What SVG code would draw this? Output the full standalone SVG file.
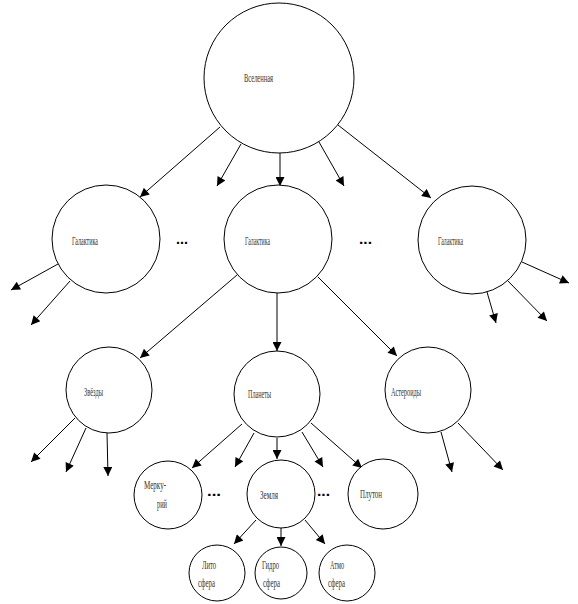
<svg xmlns="http://www.w3.org/2000/svg" width="578" height="604" viewBox="0 0 578 604">
<style>
.n{fill:#fff;stroke:#000;stroke-width:1}
.t{font-family:"Liberation Serif",serif;font-size:12.5px;fill:#333}
.d{font-family:"Liberation Sans",sans-serif;font-size:15px;font-weight:bold;fill:#000}
#conn line{stroke:#000;stroke-width:1;marker-end:url(#ah)}
</style>
<defs>
<marker id="ah" viewBox="0 0 10 10" refX="10" refY="5" markerWidth="11" markerHeight="9" markerUnits="userSpaceOnUse" orient="auto">
<path d="M0,0 L10,5 L0,10 z" fill="#000"/>
</marker>
</defs>
<rect width="578" height="604" fill="#fff"/>
<g id="conn">
<line x1="220" y1="127" x2="140" y2="197"/>
<line x1="241" y1="144" x2="217" y2="186"/>
<line x1="280" y1="153" x2="280" y2="186"/>
<line x1="319" y1="142" x2="344" y2="186"/>
<line x1="338" y1="125" x2="431" y2="198"/>
<line x1="58" y1="264" x2="11" y2="290"/>
<line x1="70" y1="281" x2="31" y2="325"/>
<line x1="522" y1="262" x2="569" y2="283"/>
<line x1="508" y1="281" x2="547" y2="321"/>
<line x1="487" y1="292" x2="496" y2="323"/>
<line x1="237" y1="275" x2="140" y2="358"/>
<line x1="277" y1="293" x2="277" y2="351"/>
<line x1="318" y1="277" x2="397" y2="356"/>
<line x1="75" y1="418" x2="31" y2="462"/>
<line x1="86" y1="428" x2="66" y2="472"/>
<line x1="107" y1="433" x2="108" y2="476"/>
<line x1="441" y1="432" x2="452" y2="472"/>
<line x1="458" y1="423" x2="503" y2="470"/>
<line x1="242" y1="424" x2="192" y2="468"/>
<line x1="254" y1="433" x2="235" y2="467"/>
<line x1="277" y1="438" x2="277" y2="459"/>
<line x1="302" y1="432" x2="323" y2="467"/>
<line x1="311" y1="423" x2="362" y2="468"/>
<line x1="256" y1="520" x2="234" y2="544"/>
<line x1="281" y1="528" x2="281" y2="546"/>
<line x1="305" y1="520" x2="325" y2="544"/>
</g>
<g id="universe"><circle class="n" cx="279" cy="78" r="75"/><text class="t" x="244" y="82" textLength="29" lengthAdjust="spacingAndGlyphs">Вселенная</text></g>
<g id="galaxy1"><circle class="n" cx="106" cy="239" r="54"/><text class="t" x="72" y="245" textLength="26" lengthAdjust="spacingAndGlyphs">Галактика</text></g>
<g id="galaxy2"><circle class="n" cx="278" cy="239" r="54"/><text class="t" x="245" y="245" textLength="25" lengthAdjust="spacingAndGlyphs">Галактика</text></g>
<g id="galaxy3"><circle class="n" cx="472" cy="240" r="54"/><text class="t" x="438" y="245" textLength="25" lengthAdjust="spacingAndGlyphs">Галактика</text></g>
<g id="dots1"><text class="d" x="176" y="244" textLength="12" lengthAdjust="spacingAndGlyphs">...</text></g>
<g id="dots2"><text class="d" x="359" y="244" textLength="13" lengthAdjust="spacingAndGlyphs">...</text></g>
<g id="stars"><circle class="n" cx="109" cy="390" r="43"/><text class="t" x="84" y="396" textLength="19" lengthAdjust="spacingAndGlyphs">Звёзды</text></g>
<g id="planets"><circle class="n" cx="277" cy="394" r="43"/><text class="t" x="248" y="398" textLength="23" lengthAdjust="spacingAndGlyphs">Планеты</text></g>
<g id="asteroids"><circle class="n" cx="428" cy="390" r="43"/><text class="t" x="391" y="396" textLength="30" lengthAdjust="spacingAndGlyphs">Астероиды</text></g>
<g id="mercury"><circle class="n" cx="168" cy="495" r="34"/><text class="t" x="144" y="489" textLength="22" lengthAdjust="spacingAndGlyphs">Мерку-</text><text class="t" x="157" y="508" textLength="10" lengthAdjust="spacingAndGlyphs">рий</text></g>
<g id="dots3"><text class="d" x="207" y="496" textLength="14" lengthAdjust="spacingAndGlyphs">...</text></g>
<g id="earth"><circle class="n" cx="281" cy="494" r="34"/><text class="t" x="260" y="499" textLength="18" lengthAdjust="spacingAndGlyphs">Земля</text></g>
<g id="dots4"><text class="d" x="317" y="496" textLength="13" lengthAdjust="spacingAndGlyphs">...</text></g>
<g id="pluto"><circle class="n" cx="383" cy="494" r="35"/><text class="t" x="360" y="498" textLength="22" lengthAdjust="spacingAndGlyphs">Плутон</text></g>
<g id="litho"><circle class="n" cx="217" cy="573" r="28"/><text class="t" x="202" y="569" textLength="14" lengthAdjust="spacingAndGlyphs">Лито</text><text class="t" x="198" y="587" textLength="17" lengthAdjust="spacingAndGlyphs">сфера</text></g>
<g id="hydro"><circle class="n" cx="281" cy="573" r="26"/><text class="t" x="262" y="569" textLength="17" lengthAdjust="spacingAndGlyphs">Гидро</text><text class="t" x="263" y="587" textLength="17" lengthAdjust="spacingAndGlyphs">сфера</text></g>
<g id="atmo"><circle class="n" cx="347" cy="573" r="28"/><text class="t" x="330" y="569" textLength="14" lengthAdjust="spacingAndGlyphs">Атмо</text><text class="t" x="328" y="587" textLength="17" lengthAdjust="spacingAndGlyphs">сфера</text></g>
</svg>
